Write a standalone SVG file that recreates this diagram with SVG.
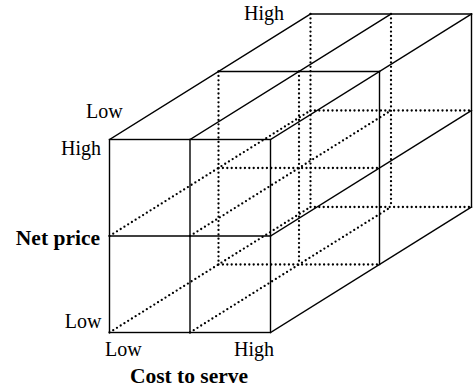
<svg xmlns="http://www.w3.org/2000/svg" width="475" height="388" viewBox="0 0 475 388">
<style>
.s{fill:none;stroke:#000;stroke-width:1.4;stroke-linecap:square}
.d{fill:none;stroke:#000;stroke-width:2.3;stroke-linecap:round;stroke-dasharray:0 4.4}
.t{font-family:"Liberation Serif",serif;font-size:20px;fill:#000}
.b{font-family:"Liberation Serif",serif;font-size:21.5px;font-weight:bold;fill:#000}
</style>
<rect width="475" height="388" fill="#fff"/>
<g id="hidden-lines">
<g id="mid-frame-hidden" class="d">
<line x1="218.5" y1="71.5" x2="218.5" y2="264.5"/>
<line x1="299" y1="71.5" x2="299" y2="264.5"/>
<line x1="218.5" y1="168" x2="379.5" y2="168"/>
<line x1="218.5" y1="264.5" x2="379.5" y2="264.5"/>
</g>
<g id="back-frame-hidden" class="d">
<line x1="310.5" y1="14" x2="310.5" y2="207"/>
<line x1="391" y1="14" x2="391" y2="207"/>
<line x1="310.5" y1="110.5" x2="471.5" y2="110.5"/>
<line x1="310.5" y1="207" x2="471.5" y2="207"/>
</g>
<g id="receding-hidden" class="d">
<line x1="109.5" y1="236" x2="310.5" y2="110.5"/>
<line x1="190" y1="236" x2="391" y2="110.5"/>
<line x1="109.5" y1="332.5" x2="310.5" y2="207"/>
<line x1="190" y1="332.5" x2="391" y2="207"/>
</g>
</g>
<g id="front-face" class="s">
<rect x="109.5" y="139.5" width="161" height="193"/>
<line x1="190" y1="139.5" x2="190" y2="332.5"/>
<line x1="109.5" y1="236" x2="270.5" y2="236"/>
</g>
<g id="top-face" class="s">
<line x1="109.5" y1="139.5" x2="310.5" y2="14"/>
<line x1="190" y1="139.5" x2="391" y2="14"/>
<line x1="270.5" y1="139.5" x2="471.5" y2="14"/>
<line x1="310.5" y1="14" x2="471.5" y2="14"/>
<line x1="218.5" y1="71.5" x2="379.5" y2="71.5"/>
</g>
<g id="right-face" class="s">
<line x1="270.5" y1="236" x2="471.5" y2="110.5"/>
<line x1="270.5" y1="332.5" x2="471.5" y2="207"/>
<line x1="471.5" y1="14" x2="471.5" y2="207"/>
<line x1="379.5" y1="71.5" x2="379.5" y2="264.5"/>
</g>
<g id="labels">
<text class="t" x="244" y="20">High</text>
<text class="t" x="86" y="117.5">Low</text>
<text class="t" x="101" y="155" text-anchor="end">High</text>
<text class="b" x="100" y="245" text-anchor="end">Net price</text>
<text class="t" x="101.5" y="327.5" text-anchor="end">Low</text>
<text class="t" x="105" y="356">Low</text>
<text class="t" x="274" y="356" text-anchor="end">High</text>
<text class="b" x="189" y="383" text-anchor="middle">Cost to serve</text>
</g>
</svg>
